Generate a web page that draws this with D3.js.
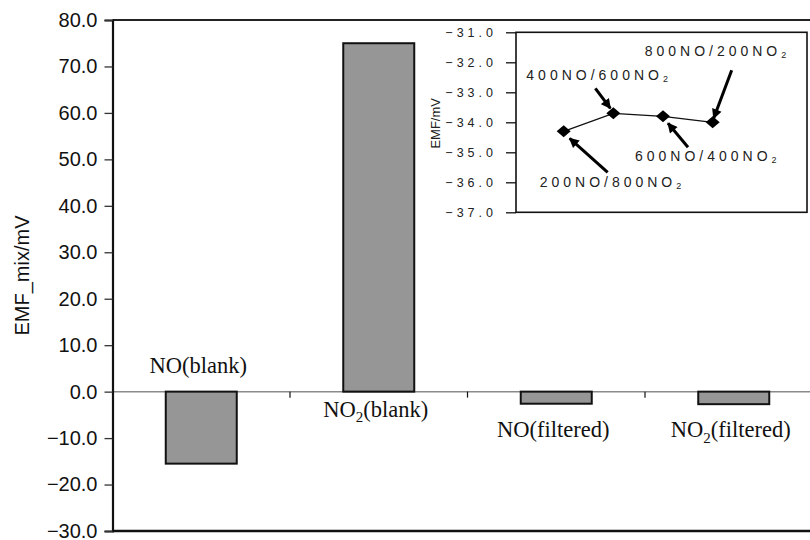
<!DOCTYPE html>
<html>
<head>
<meta charset="utf-8">
<script src="https://cdn.jsdelivr.net/npm/d3@7"></script>
<style>
  body { margin: 0; background: #fff; }
  svg { display: block; }
</style>
</head>
<body>
<div id="chart"></div>
<script>
// main bar chart data
var categories = ["NO(blank)", "NO2(blank)", "NO(filtered)", "NO2(filtered)"];
var emfMix = [-15.5, 75.0, -2.6, -2.7];
var yTicks = [80, 70, 60, 50, 40, 30, 20, 10, 0, -10, -20, -30];

// inset line chart data
var insetRatios = ["200NO/800NO2", "400NO/600NO2", "600NO/400NO2", "800NO/200NO2"];
var insetEmf = [-34.3, -33.7, -33.8, -34.0];
var insetTicks = [-31, -32, -33, -34, -35, -36, -37];

var W = 810, H = 540;
var svg = d3.select('#chart').append('svg')
    .attr('width', W)
    .attr('height', H);

// plot area (right side runs past the picture edge)
var pLeft = 112.5, pRight = 822.5, pTop = 20, pBottom = 531;

var x = d3.scaleBand()
    .domain(categories)
    .range([pLeft, pRight])
    .paddingInner(0.6)
    .paddingOuter(0.3);

var y = d3.scaleLinear()
    .domain([-30, 80])
    .range([pBottom, pTop]);

// top border of plot area
svg.append('line')
    .attr('x1', pLeft).attr('x2', W)
    .attr('y1', pTop).attr('y2', pTop)
    .attr('stroke', '#222').attr('stroke-width', 2);

// zero line
svg.append('line')
    .attr('x1', pLeft).attr('x2', W)
    .attr('y1', y(0)).attr('y2', y(0))
    .attr('stroke', '#8a8a8a').attr('stroke-width', 1.5);

// category ticks on the zero line
svg.append('g')
    .selectAll('line')
    .data(categories.slice(1))
    .enter()
    .append('line')
    .attr('x1', function(d){ return x(d) - x.step()*x.paddingInner()/2; })
    .attr('x2', function(d){ return x(d) - x.step()*x.paddingInner()/2; })
    .attr('y1', y(0))
    .attr('y2', y(0) + 6)
    .attr('stroke', '#111').attr('stroke-width', 1.2);

// bars
svg.append('g')
    .selectAll('rect')
    .data(emfMix)
    .enter()
    .append('rect')
    .attr('x', function(d,i){ return x(categories[i]); })
    .attr('width', x.bandwidth())
    .attr('y', function(d){ return y(Math.max(0, d)); })
    .attr('height', function(d){ return Math.abs(y(d) - y(0)); })
    .attr('fill', '#969696')
    .attr('stroke', '#111')
    .attr('stroke-width', 2);

// bottom border
svg.append('line')
    .attr('x1', pLeft).attr('x2', W)
    .attr('y1', pBottom).attr('y2', pBottom)
    .attr('stroke', '#111').attr('stroke-width', 2.5);

// y axis
var yAxis = d3.axisLeft(y)
    .tickValues(yTicks)
    .tickSize(8)
    .tickPadding(7)
    .tickFormat(d3.format('.1f'));

var gy = svg.append('g')
    .attr('transform', 'translate(' + pLeft + ',0)')
    .call(yAxis);
gy.select('.domain').attr('stroke', '#111').attr('stroke-width', 2.2);
gy.selectAll('.tick line').attr('stroke', '#333').attr('stroke-width', 1.3);
gy.selectAll('.tick text')
    .attr('font-family', 'Liberation Sans, Arial, sans-serif')
    .attr('font-size', '20px')
    .attr('fill', '#111');

svg.append('text')
    .attr('transform', 'translate(29,' + ((pTop + pBottom)/2) + ') rotate(-90)')
    .attr('text-anchor', 'middle')
    .attr('font-family', 'Liberation Sans, Arial, sans-serif')
    .attr('font-size', '20px')
    .attr('fill', '#111')
    .text('EMF_mix/mV');

// category labels, NO2 written with subscript
function writeChem(sel, label, sub, fs){
    var m = label.match(/^(.*?)2(.*)$/);
    if (m) {
        sel.append('tspan').text(m[1]);
        sel.append('tspan').attr('font-size', sub).attr('dy', fs*0.25).text('2');
        sel.append('tspan').attr('dy', -fs*0.25).text(m[2]);
    } else {
        sel.text(label);
    }
}

var catFont = 22.5;
svg.append('g')
    .selectAll('text')
    .data(categories)
    .enter()
    .append('text')
    .attr('x', function(d){ return x(d) + x.bandwidth()/2 - 3; })
    .attr('y', function(d,i){
        var v = emfMix[i];
        if (v < -5) return y(0) - 19;       // long negative bar: label above axis
        if (v > 0) return y(0) + 25;        // positive bar: label under axis
        return y(v) + 33;                   // short negative bar: under bar end
    })
    .attr('text-anchor', 'middle')
    .attr('font-family', 'Liberation Serif, Times New Roman, serif')
    .attr('font-size', catFont + 'px')
    .attr('fill', '#111')
    .each(function(d){ writeChem(d3.select(this), d, '15px', catFont); });

// ---------------- inset ----------------
var inL = 516, inR = 807, inT = 32.3, inB = 212.3;

var xi = d3.scaleLinear().domain([0, 6]).range([514, 812]);
var yi = d3.scaleLinear().domain([-37, -31]).range([inB, inT]);

var inset = svg.append('g');

inset.append('rect')
    .attr('x', inL).attr('y', inT)
    .attr('width', inR - inL).attr('height', inB - inT)
    .attr('fill', '#fff')
    .attr('stroke', '#111')
    .attr('stroke-width', 1.6);

var yiAxis = d3.axisLeft(yi)
    .tickValues(insetTicks)
    .tickSize(10)
    .tickPadding(7)
    .tickFormat(d3.format('.1f'));

var giy = inset.append('g')
    .attr('transform', 'translate(' + inL + ',0)')
    .call(yiAxis);
giy.select('.domain').remove();
giy.selectAll('.tick line').attr('stroke', '#111').attr('stroke-width', 1.3);
giy.selectAll('.tick text')
    .attr('font-family', 'Liberation Sans, Arial, sans-serif')
    .attr('font-size', '12.5px')
    .attr('letter-spacing', '4px')
    .attr('x', -19)
    .attr('fill', '#222');

inset.append('text')
    .attr('transform', 'translate(440,' + ((inT + inB)/2 + 1) + ') rotate(-90)')
    .attr('text-anchor', 'middle')
    .attr('font-family', 'Liberation Sans, Arial, sans-serif')
    .attr('font-size', '13px')
    .attr('fill', '#222')
    .text('EMF/mV');

var line = d3.line()
    .x(function(d,i){ return xi(i + 1); })
    .y(function(d){ return yi(d); });

inset.append('path')
    .datum(insetEmf)
    .attr('d', line)
    .attr('fill', 'none')
    .attr('stroke', '#111')
    .attr('stroke-width', 1.3);

inset.append('g')
    .selectAll('path')
    .data(insetEmf)
    .enter()
    .append('path')
    .attr('d', 'M-7,0 L0,-6 L7,0 L0,6 Z')
    .attr('transform', function(d,i){ return 'translate(' + xi(i + 1) + ',' + yi(d) + ')'; })
    .attr('fill', '#000');

// arrow + label offsets relative to each point (pixels)
var arrowHead = [[6, 7], [-3, -5], [5, 7], [1, -4]];
var arrowTail = [[44, 41], [-18, -25], [25, 31], [19, -52]];
var labelAt = [[-24, 56], [-87, -33], [-28, 45], [-68, -66]];

svg.append('defs').append('marker')
    .attr('id', 'ah')
    .attr('viewBox', '0 0 10 10')
    .attr('refX', 9).attr('refY', 5)
    .attr('markerWidth', 11).attr('markerHeight', 10)
    .attr('markerUnits', 'userSpaceOnUse')
    .attr('orient', 'auto')
    .append('path')
    .attr('d', 'M0,0 L10,5 L0,10 Z')
    .attr('fill', '#000');

inset.append('g')
    .selectAll('line')
    .data(insetEmf)
    .enter()
    .append('line')
    .attr('x1', function(d,i){ return xi(i + 1) + arrowTail[i][0]; })
    .attr('y1', function(d,i){ return yi(d) + arrowTail[i][1]; })
    .attr('x2', function(d,i){ return xi(i + 1) + arrowHead[i][0]; })
    .attr('y2', function(d,i){ return yi(d) + arrowHead[i][1]; })
    .attr('stroke', '#000')
    .attr('stroke-width', 3)
    .attr('marker-end', 'url(#ah)');

inset.append('g')
    .selectAll('text')
    .data(insetRatios)
    .enter()
    .append('text')
    .attr('x', function(d,i){ return xi(i + 1) + labelAt[i][0]; })
    .attr('y', function(d,i){ return yi(insetEmf[i]) + labelAt[i][1]; })
    .attr('font-family', 'Liberation Sans, Arial, sans-serif')
    .attr('font-size', '14px')
    .attr('letter-spacing', '4px')
    .attr('fill', '#222')
    .each(function(d){
        var t = d3.select(this);
        t.append('tspan').text(d.slice(0, -1));
        t.append('tspan').attr('font-size', '9px').attr('dy', 2).text(d.slice(-1));
    });
</script>
</body>
</html>
